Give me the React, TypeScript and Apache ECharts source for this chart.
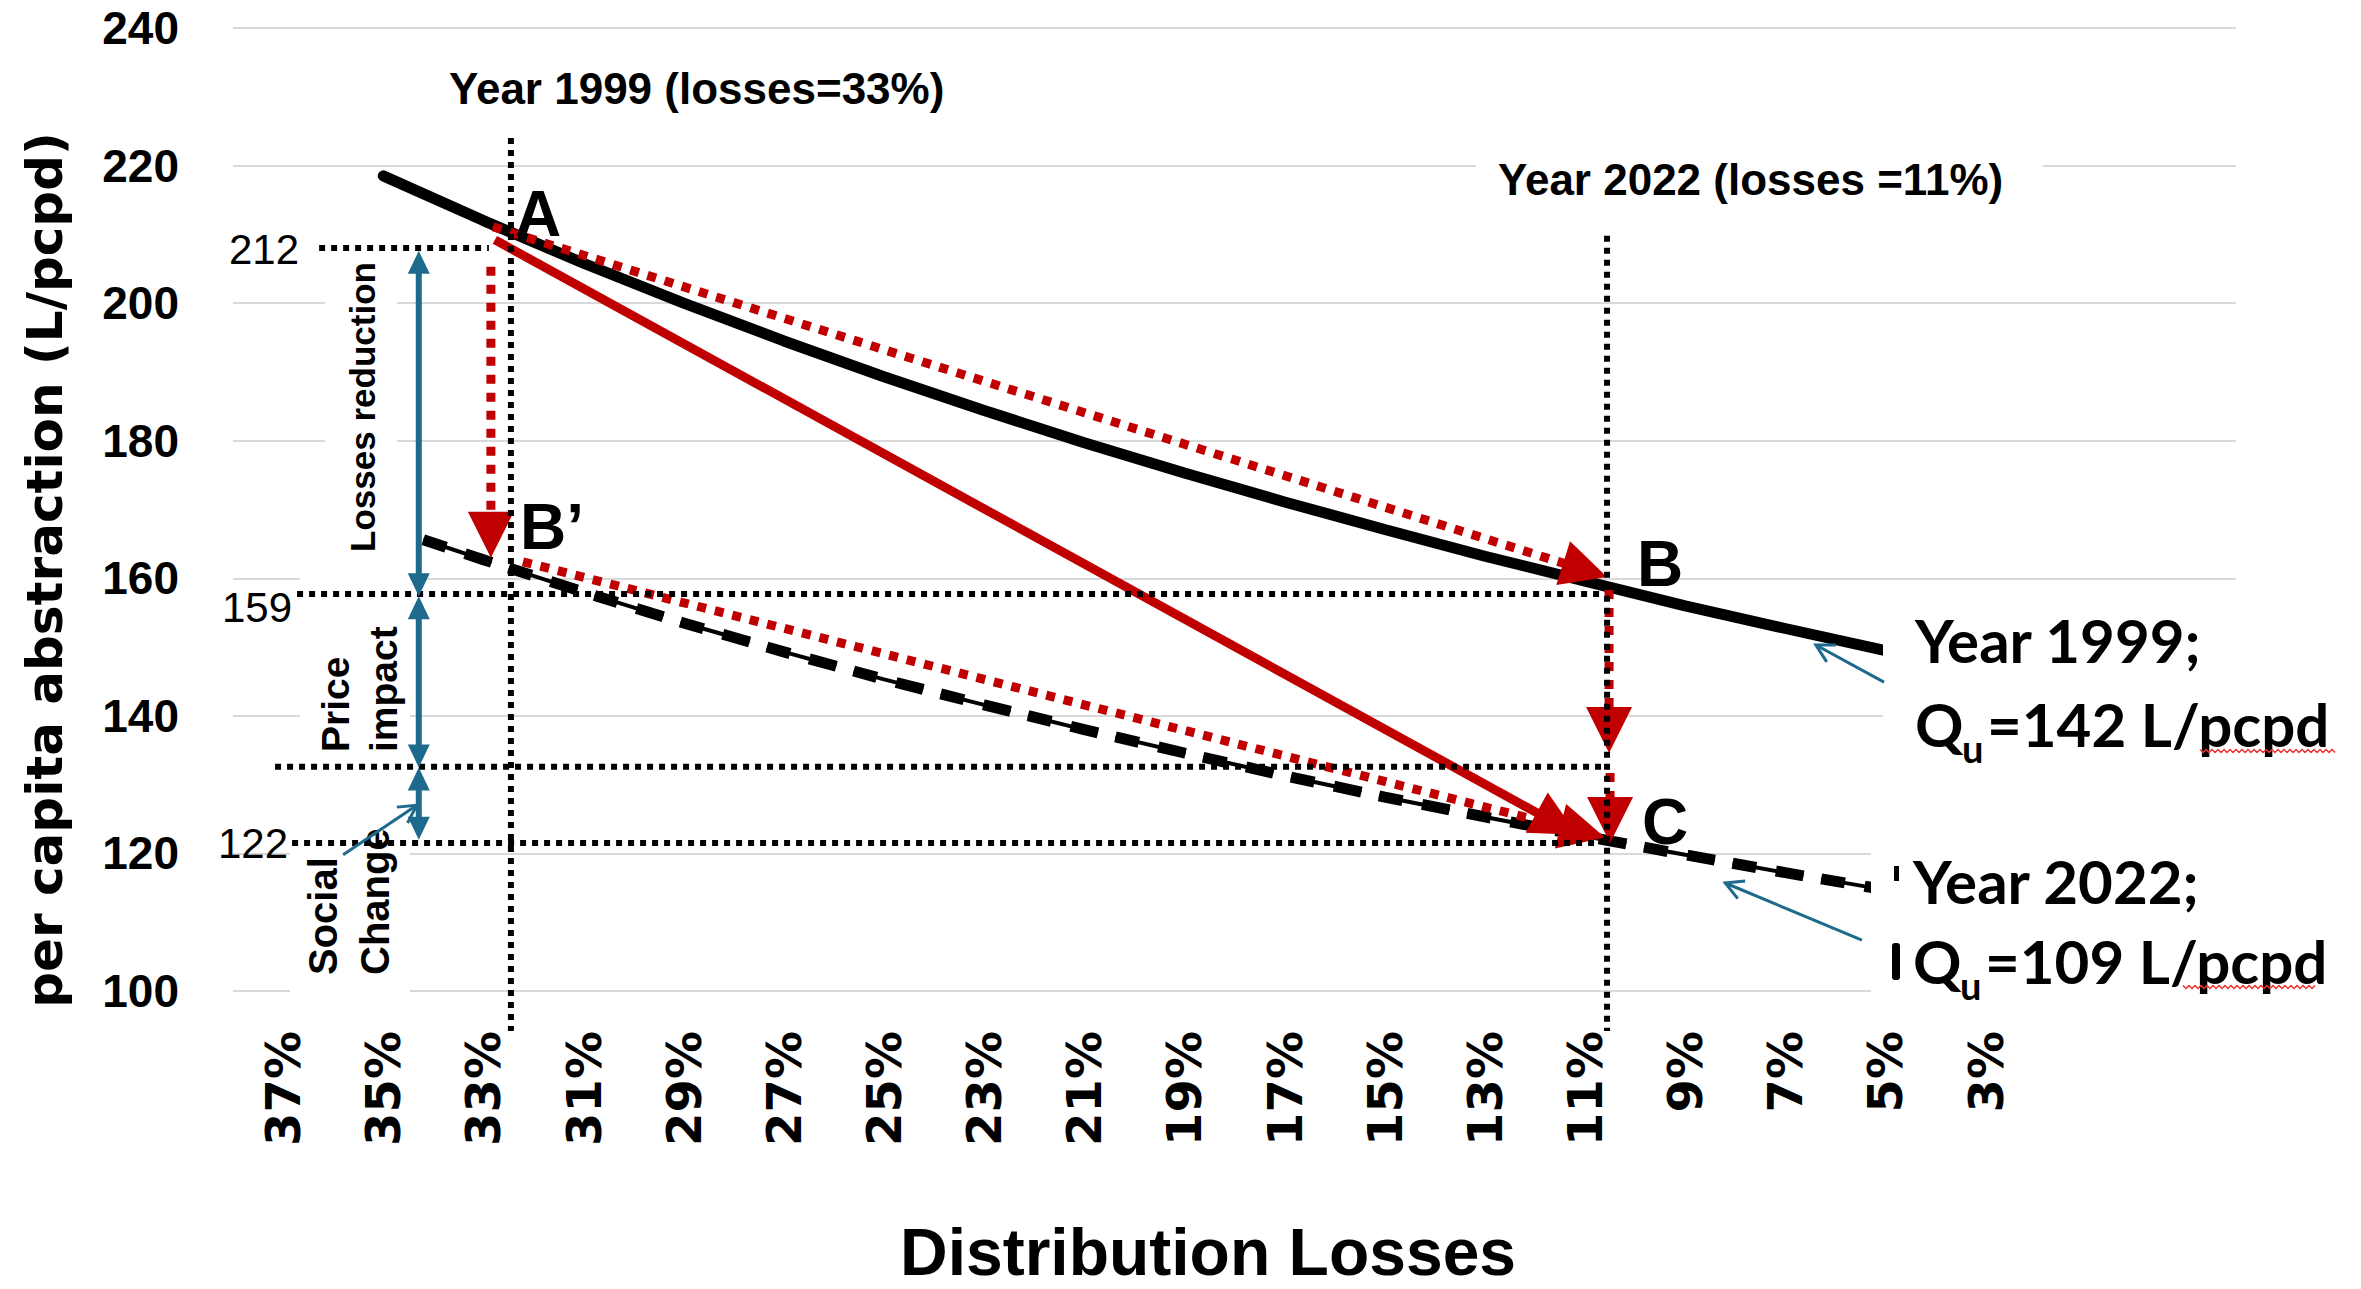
import React, { useEffect, useRef } from 'react';
import * as echarts from 'echarts';

const W = 2361;
const H = 1289;

// ---------- data ----------
// Year 1999 curve (Qu = 142 L/pcpd): distribution losses (%) vs per-capita abstraction
const losses1999 = [35, 33, 31, 29, 27, 25, 23, 21, 19, 17, 15, 13, 11, 9, 7, 5];
const abstraction1999 = [218.5, 212, 205.8, 200, 194.5, 189.3, 184.4, 179.7, 175.3, 171.1, 167.1, 163.2, 159.6, 156, 152.7, 149.5];
// Year 2022 curve (Qu = 109 L/pcpd)
const losses2022 = [34.2, 33, 31, 29, 27, 25, 23, 21, 19, 17, 15, 13, 11, 9, 7, 5];
const abstraction2022 = [165.6, 162.7, 158, 153.5, 149.3, 145.3, 141.6, 138, 134.6, 131.3, 128.2, 125.3, 122.5, 119.8, 117.2, 114.7];

const xTickLabels = ['37%', '35%', '33%', '31%', '29%', '27%', '25%', '23%', '21%', '19%', '17%', '15%', '13%', '11%', '9%', '7%', '5%', '3%'];
const yTickValues = [100, 120, 140, 160, 180, 200, 220, 240];

// annotation geometry in data units [loss0, value0, loss1, value1]
const guideLines = [
  [32.45, 224.0, 32.45, 94.2],
  [10.56, 209.8, 10.56, 94.2],
  [36.28, 208.0, 32.89, 208.0],
  [36.72, 157.7, 10.7, 157.7],
  [37.16, 132.6, 10.56, 132.6],
  [36.82, 121.5, 10.7, 121.5],
];
const redDottedArrows = [
  [32.81, 211.1, 10.56, 160.2],
  [32.85, 205.3, 32.85, 163.0],
  [32.21, 162.4, 10.6, 122.3],
  [10.52, 158.3, 10.52, 134.6],
  [10.5, 131.7, 10.5, 121.5],
];
const redSolidArrow = [32.77, 209.2, 11.16, 122.7];
const blueDoubleArrows = [
  [34.29, 207.6, 34.29, 157.4],
  [34.29, 157.4, 34.29, 132.5],
  [34.29, 132.5, 34.29, 122.0],
];
const bluePointers = [
  [35.8, 119.8, 34.33, 127.0],
  [5.03, 144.9, 6.39, 150.3],
  [5.47, 107.4, 8.2, 115.7],
];

const ARIAL = '"Liberation Sans", Arial, sans-serif';
const VERDANA = '"DejaVu Sans", Verdana, sans-serif';
const CALIBRI = 'Lato, "Open Sans", sans-serif';
const RED = '#C00000';
const BLUE = '#1D6A8C';

function buildOption(): any {
  return {
    animation: false,
    backgroundColor: '#ffffff',
    grid: { left: 233, right: 125, top: 28, bottom: 298, outerBoundsMode: 'none', containLabel: false },
    xAxis: {
      type: 'value',
      inverse: true,
      min: -2,
      max: 38,
      interval: 1,
      axisLine: { show: false },
      axisTick: { show: false },
      splitLine: { show: false },
      axisLabel: {
        rotate: 90,
        margin: 40,
        fontFamily: VERDANA,
        fontWeight: 'bold',
        fontSize: 48,
        color: '#000',
        formatter: (v: number) => {
          const s = Math.round(v) + '%';
          return Math.abs(v - Math.round(v)) < 1e-6 && xTickLabels.includes(s) ? s : '';
        },
      },
    },
    yAxis: {
      type: 'value',
      min: yTickValues[0],
      max: yTickValues[yTickValues.length - 1],
      interval: 20,
      axisLine: { show: false },
      axisTick: { show: false },
      splitLine: { show: true, lineStyle: { color: '#d9d9d9', width: 2 } },
      axisLabel: {
        margin: 54,
        fontFamily: ARIAL,
        fontWeight: 'bold',
        fontSize: 46,
        color: '#000',
      },
    },
    series: [
      {
        name: 'Year 1999',
        type: 'line',
        data: losses1999.map((l, i) => [l, abstraction1999[i]]),
        symbol: 'none',
        showSymbol: false,
        z: 2,
        lineStyle: { color: '#000', width: 11, cap: 'round' },
      },
      {
        name: 'Year 2022 thin',
        type: 'line',
        data: losses2022.map((l, i) => [l, abstraction2022[i]]),
        symbol: 'none',
        showSymbol: false,
        z: 2,
        lineStyle: { color: '#000', width: 4, type: [72, 18], cap: 'butt' },
      },
      {
        name: 'Year 2022',
        type: 'line',
        data: losses2022.map((l, i) => [l, abstraction2022[i]]),
        symbol: 'none',
        showSymbol: false,
        z: 2,
        lineStyle: { color: '#000', width: 11, type: [24, 20, 28, 18], cap: 'butt' },
      },
    ],
  };
}

function buildGraphic(chart: any): any[] {
  const P = (l: number, v: number): number[] => chart.convertToPixel({ gridIndex: 0 }, [l, v]);
  const els: any[] = [];

  const line = (a: number[], b: number[], style: any, z: number) =>
    els.push({ type: 'line', silent: true, z, shape: { x1: a[0], y1: a[1], x2: b[0], y2: b[1] }, style: { fill: 'none', ...style } });

  const head = (tip: number[], from: number[], len: number, wid: number, color: string, z: number) => {
    const dx = tip[0] - from[0];
    const dy = tip[1] - from[1];
    const d = Math.hypot(dx, dy) || 1;
    const ux = dx / d;
    const uy = dy / d;
    const bx = tip[0] - ux * len;
    const by = tip[1] - uy * len;
    const px = (-uy * wid) / 2;
    const py = (ux * wid) / 2;
    els.push({
      type: 'polygon', silent: true, z,
      shape: { points: [[tip[0], tip[1]], [bx + px, by + py], [bx - px, by - py]] },
      style: { fill: color, stroke: 'none' },
    });
    return [tip[0] - ux * (len - 3), tip[1] - uy * (len - 3)];
  };

  const rect = (x: number, y: number, w: number, h: number, z: number) =>
    els.push({ type: 'rect', silent: true, z, shape: { x, y, width: w, height: h }, style: { fill: '#ffffff', stroke: 'none' } });

  const text = (t: string, x: number, y: number, o: any) =>
    els.push({
      type: 'text', silent: true, z: o.z ?? 8, x, y, rotation: o.rot || 0,
      style: {
        text: t,
        fill: o.color || '#000',
        fontFamily: o.family,
        fontSize: o.size,
        fontWeight: o.weight || 'bold',
        align: o.align || 'left',
        textAlign: o.align || 'left',
        verticalAlign: 'middle',
        textVerticalAlign: 'middle',
      },
    });

  // white text-box backgrounds (left ones under the lines, right ones above the curves)
  rect(325, 255, 72, 320, 1);
  rect(300, 570, 110, 190, 1);
  rect(290, 800, 120, 205, 1);
  rect(1476, 150, 567, 60, 7);
  rect(1883, 598, 478, 172, 7);
  rect(1871, 845, 490, 165, 7);

  // red arrows
  const redDot = { stroke: RED, lineWidth: 9, lineDash: [9, 9] };
  redDottedArrows.forEach((a) => {
    const s = P(a[0], a[1]);
    const e = P(a[2], a[3]);
    const base = head(e, s, 46, 46, RED, 4);
    line(s, base, redDot, 4);
  });
  {
    const s = P(redSolidArrow[0], redSolidArrow[1]);
    const e = P(redSolidArrow[2], redSolidArrow[3]);
    const base = head(e, s, 46, 46, RED, 4);
    line(s, base, { stroke: RED, lineWidth: 9 }, 4);
  }

  // black dotted guide lines
  guideLines.forEach((g) => line(P(g[0], g[1]), P(g[2], g[3]), { stroke: '#000', lineWidth: 6, lineDash: [6, 6] }, 5));

  // blue double-headed arrows
  blueDoubleArrows.forEach((a) => {
    const s = P(a[0], a[1]);
    const e = P(a[2], a[3]);
    const b1 = head(s, e, 23, 22, BLUE, 6);
    const b2 = head(e, s, 23, 22, BLUE, 6);
    line(b1, b2, { stroke: BLUE, lineWidth: 6 }, 6);
  });

  // thin blue pointer arrows with open heads
  bluePointers.forEach((a) => {
    const s = P(a[0], a[1]);
    const e = P(a[2], a[3]);
    line(s, e, { stroke: BLUE, lineWidth: 3 }, 9);
    const dx = e[0] - s[0];
    const dy = e[1] - s[1];
    const d = Math.hypot(dx, dy) || 1;
    const ux = dx / d;
    const uy = dy / d;
    const arm = (ang: number) => {
      const c = Math.cos(ang);
      const sn = Math.sin(ang);
      const rx = ux * c - uy * sn;
      const ry = ux * sn + uy * c;
      return [e[0] - rx * 20, e[1] - ry * 20];
    };
    els.push({
      type: 'polyline', silent: true, z: 9,
      shape: { points: [arm(0.5), [e[0], e[1]], arm(-0.5)] },
      style: { stroke: BLUE, lineWidth: 3, fill: 'none' },
    });
  });

  // titles & annotations
  text('Year 1999 (losses=33%)', 449, 88, { family: ARIAL, size: 44 });
  text('Year 2022 (losses =11%)', 1498, 179, { family: ARIAL, size: 44 });
  text('A', 515, 214, { family: ARIAL, size: 64 });
  text('B\u2019', 520, 527, { family: ARIAL, size: 64 });
  text('B', 1637, 564, { family: ARIAL, size: 64 });
  text('C', 1642, 822, { family: ARIAL, size: 64 });
  text('212', 299, 249, { family: ARIAL, size: 42, weight: 'normal', align: 'right' });
  text('159', 292, 607, { family: ARIAL, size: 42, weight: 'normal', align: 'right' });
  text('122', 288, 843, { family: ARIAL, size: 42, weight: 'normal', align: 'right' });

  const ROT = Math.PI / 2;
  text('Losses reduction', 362, 407, { family: ARIAL, size: 35, align: 'center', rot: ROT });
  text('Price', 335, 752, { family: ARIAL, size: 39, rot: ROT });
  text('impact', 383, 752, { family: ARIAL, size: 39, rot: ROT });
  text('Social', 323, 975, { family: ARIAL, size: 40, rot: ROT });
  text('Change', 375, 975, { family: ARIAL, size: 40, rot: ROT });

  text('per capita abstraction (L/pcpd)', 45, 570, { family: VERDANA, size: 50, align: 'center', rot: ROT });
  text('Distribution Losses', 1208, 1252, { family: ARIAL, size: 66, align: 'center' });

  // right-hand legend texts
  text('Year 1999;', 1915, 640, { family: CALIBRI, size: 60, z: 8 });
  text('Q', 1915, 724, { family: CALIBRI, size: 60, z: 8 });
  text('u', 1962, 748, { family: CALIBRI, size: 38, z: 8 });
  text('=142 L/pcpd', 1987, 724, { family: CALIBRI, size: 60, z: 8 });
  text('Year 2022;', 1913, 881, { family: CALIBRI, size: 60, z: 8 });
  text('Q', 1913, 961, { family: CALIBRI, size: 60, z: 8 });
  text('u', 1960, 985, { family: CALIBRI, size: 38, z: 8 });
  text('=109 L/pcpd', 1985, 961, { family: CALIBRI, size: 60, z: 8 });
  // clipped fragments of neighbouring characters
  els.push({ type: 'rect', silent: true, z: 8, shape: { x: 1894, y: 866, width: 5, height: 15 }, style: { fill: '#000' } });
  els.push({ type: 'rect', silent: true, z: 8, shape: { x: 1892, y: 943, width: 8, height: 37, r: 3 }, style: { fill: '#000' } });

  // red spell-check squiggles under "pcpd"
  const squiggle = (x0: number, x1: number, y: number) => {
    const pts: number[][] = [];
    let k = 0;
    for (let x = x0; x <= x1; x += 3) {
      pts.push([x, y + (k % 2 === 0 ? -1.5 : 1.5)]);
      k++;
    }
    els.push({ type: 'polyline', silent: true, z: 8, shape: { points: pts }, style: { stroke: '#E33', lineWidth: 1.5, fill: 'none' } });
  };
  squiggle(2200, 2337, 751);
  squiggle(2183, 2316, 987);

  return els;
}

export default function App() {
  const ref = useRef<HTMLDivElement>(null);
  useEffect(() => {
    if (!ref.current) return;
    const chart = echarts.init(ref.current, null, { renderer: 'svg' });
    chart.setOption(buildOption());
    chart.setOption({ graphic: buildGraphic(chart) });
    return () => chart.dispose();
  }, []);
  return (
    <div
      ref={ref}
      style={{ position: 'fixed', left: 0, top: 0, width: W, height: H, background: '#fff' }}
    />
  );
}
